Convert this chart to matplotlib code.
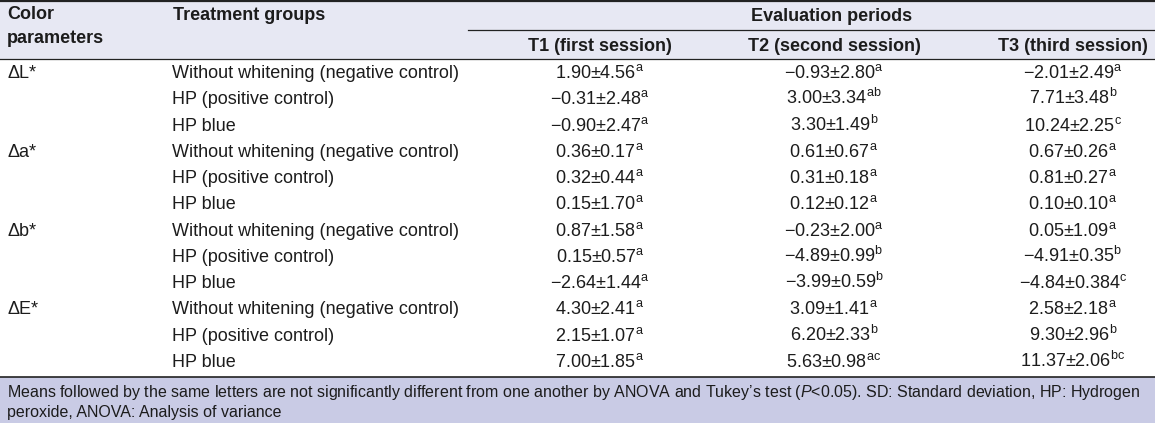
import matplotlib.pyplot as plt
from matplotlib.patches import Rectangle

plt.rcParams['font.family'] = ['Liberation Sans', 'DejaVu Sans']
plt.rcParams['mathtext.fontset'] = 'custom'
plt.rcParams['mathtext.rm'] = 'Liberation Sans'
plt.rcParams['mathtext.it'] = 'Liberation Sans:italic'

W, H = 1155, 423

# data
params = ["ΔL*", "Δa*", "Δb*", "ΔE*"]
groups = ["Without whitening (negative control)", "HP (positive control)", "HP blue"]
periods = ["T1 (first session)", "T2 (second session)", "T3 (third session)"]

# mean, sd, letter per period, rows = param x group
t1_mean = ["1.90", "−0.31", "−0.90", "0.36", "0.32", "0.15", "0.87", "0.15", "−2.64", "4.30", "2.15", "7.00"]
t1_sd = ["4.56", "2.48", "2.47", "0.17", "0.44", "1.70", "1.58", "0.57", "1.44", "2.41", "1.07", "1.85"]
t1_sig = ["a", "a", "a", "a", "a", "a", "a", "a", "a", "a", "a", "a"]

t2_mean = ["−0.93", "3.00", "3.30", "0.61", "0.31", "0.12", "−0.23", "−4.89", "−3.99", "3.09", "6.20", "5.63"]
t2_sd = ["2.80", "3.34", "1.49", "0.67", "0.18", "0.12", "2.00", "0.99", "0.59", "1.41", "2.33", "0.98"]
t2_sig = ["a", "ab", "b", "a", "a", "a", "a", "b", "b", "a", "b", "ac"]

t3_mean = ["−2.01", "7.71", "10.24", "0.67", "0.81", "0.10", "0.05", "−4.91", "−4.84", "2.58", "9.30", "11.37"]
t3_sd = ["2.49", "3.48", "2.25", "0.26", "0.27", "0.10", "1.09", "0.35", "0.384", "2.18", "2.96", "2.06"]
t3_sig = ["a", "b", "c", "a", "a", "a", "a", "b", "c", "a", "b", "bc"]

footnote = ["Means followed by the same letters are not significantly different from one another by ANOVA and Tukey’s test "
            "($\\mathit{P}$<0.05). SD: Standard deviation, HP: Hydrogen",
            "peroxide, ANOVA: Analysis of variance"]

fig = plt.figure(figsize=(W / 100, H / 100), dpi=100)
ax = fig.add_axes([0, 0, 1, 1])
ax.set_xlim(0, W)
ax.set_ylim(H, 0)
ax.axis('off')

head_bg = '#e7e8f3'
foot_bg = '#c9cbe5'
txt = '#1c1c1c'
fs = 13
fs_foot = 11.5
base = 6  # baseline offset from row centre


def put(x, y, s, size=fs, **kw):
    ax.text(x, y + base, s, fontsize=size, color=txt, va='baseline', **kw)


# header
ax.add_patch(Rectangle((0, 0), W, 59, color=head_bg, lw=0))
ax.plot([0, W], [1, 1], color='#222222', lw=1.6)
ax.plot([468, W], [30, 30], color='#222222', lw=0.9)
ax.plot([0, W], [59, 59], color='#222222', lw=0.9)

put(7, 13, "Color", fontweight='bold')
put(7, 37, "parameters", fontweight='bold')
put(173, 14, "Treatment groups", fontweight='bold')
put(832, 15, "Evaluation periods", fontweight='bold', ha='center')

col_x = [600, 834, 1073]
for x, p in zip(col_x, periods):
    put(x, 45, p, fontweight='bold', ha='center')

# body
row0, dy = 72, 26.27
cols = [(t1_mean, t1_sd, t1_sig), (t2_mean, t2_sd, t2_sig), (t3_mean, t3_sd, t3_sig)]
for i in range(len(params) * len(groups)):
    y = row0 + i * dy
    if i % 3 == 0:
        put(7, y, params[i // 3])
    put(172, y, groups[i % 3])
    for x, (m, s, g) in zip(col_x, cols):
        label = m[i] + "±" + s[i] + "$^{\\mathregular{" + g[i] + "}}$"
        put(x, y, label, ha='center')

# footer
ax.add_patch(Rectangle((0, 377), W, H - 377, color=foot_bg, lw=0))
ax.plot([0, W], [377, 377], color='#222222', lw=1.2)
put(7, 391, footnote[0], size=fs_foot)
put(7, 411, footnote[1], size=fs_foot)

fig.savefig('out.png', dpi=100)
